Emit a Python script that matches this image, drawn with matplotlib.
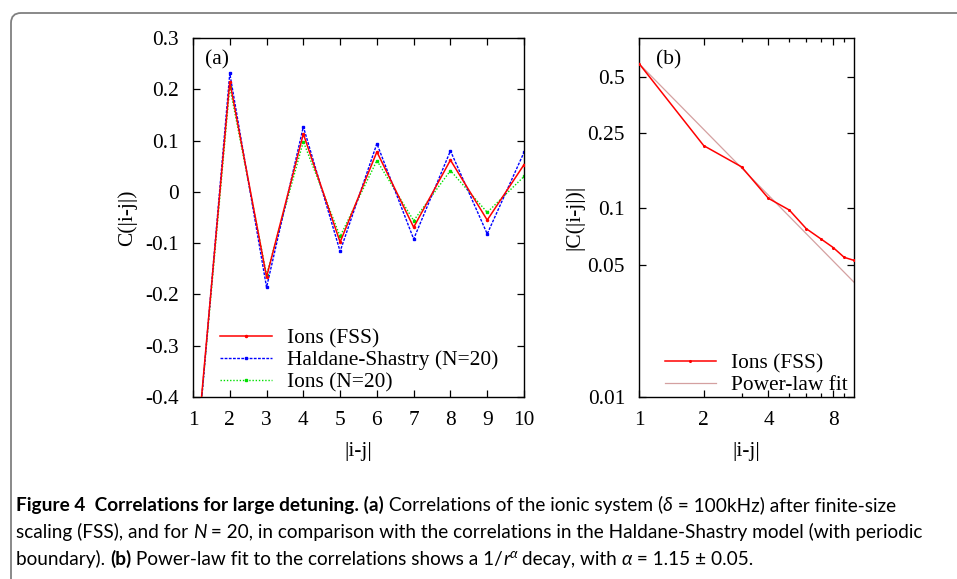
import numpy as np
import matplotlib
matplotlib.use("Agg")
import matplotlib.pyplot as plt
import matplotlib.patches as patches
from matplotlib.ticker import FixedLocator, NullFormatter, NullLocator

# data
r = [1, 2, 3, 4, 5, 6, 7, 8, 9, 10]
ions_fss = [-0.586, 0.215, -0.166, 0.113, -0.098, 0.078, -0.069, 0.062, -0.055, 0.053]
haldane = [-0.599, 0.231, -0.186, 0.127, -0.116, 0.094, -0.092, 0.080, -0.082, 0.077]
ions_n20 = [-0.591, 0.205, -0.162, 0.098, -0.087, 0.061, -0.056, 0.0415, -0.040, 0.030]

fit_r = [1, 10]
fit_c = [0.585, 0.0406]

a_yticks = [0.3, 0.2, 0.1, 0, -0.1, -0.2, -0.3, -0.4]
b_yticks = [0.5, 0.25, 0.1, 0.05, 0.01]
b_ylabels = ["0.5", "0.25", "0.1", "0.05", "0.01"]
b_xticks = [1, 2, 4, 8]

serif = ["Liberation Serif", "DejaVu Serif"]
fs = 15.4

fig = plt.figure(figsize=(9.57, 5.79), dpi=100)

# outer rounded frame
frame = patches.FancyBboxPatch((11, -60), 1000, 579 - 13 + 60,
                               boxstyle="round,pad=0,rounding_size=10",
                               transform=None, fill=False, ec="#808080", lw=1.3)
fig.add_artist(frame)


def style(ax):
  ax.tick_params(direction="in", which="both", top=True, right=True,
                 labelsize=fs)
  ax.tick_params(axis="y", pad=10)
  ax.tick_params(axis="x", pad=10)
  ax.tick_params(which="major", length=5, width=0.9)
  ax.tick_params(which="minor", length=3, width=0.9)
  for s in ax.spines.values():
    s.set_linewidth(1.0)
  for lab in ax.get_xticklabels() + ax.get_yticklabels():
    lab.set_family(serif)


# panel (a)
ax = fig.add_axes([193/957, 1-397/579, 331/957, 359/579])
ax.plot(r, ions_fss, "-", color="#ff0000", lw=1.1, marker="o", ms=1.5, label="Ions (FSS)", zorder=3)
ax.plot(r, haldane, color="#0000ff", lw=1.0, ls=(0, (2, 1)), marker="s", ms=1.5, label="Haldane-Shastry (N=20)", zorder=2)
ax.plot(r, ions_n20, color="#00e000", lw=1.0, ls=(0, (1, 1.3)), marker="s", ms=1.5, label="Ions (N=20)", zorder=1)
ax.set_xlim(1, 10)
ax.set_ylim(-0.4, 0.3)
ax.set_xticks(r)
ax.set_yticks(a_yticks)
ax.set_yticklabels(["0.3", "0.2", "0.1", "0", "-0.1", "-0.2", "-0.3", "-0.4"])
style(ax)
ax.set_xlabel("|i-j|", family=serif, fontsize=fs, labelpad=9)
ax.set_ylabel("C(|i-j|)", family=serif, fontsize=fs, labelpad=6)
ax.text(0.035, 0.94, "(a)", transform=ax.transAxes, family=serif, fontsize=fs, va="center")
leg = ax.legend(loc="lower left", bbox_to_anchor=(0.083, 0.013), frameon=False,
                prop={"family": serif, "size": fs}, handlelength=2.4, handletextpad=0.7,
                labelspacing=0.1, borderpad=0, borderaxespad=0)

# panel (b)
bx = fig.add_axes([639/957, 1-397/579, 215/957, 359/579])
bx.plot(r, np.abs(ions_fss), "-", color="#ff0000", lw=1.1, marker="o", ms=1.2, label="Ions (FSS)", zorder=3)
bx.plot(fit_r, fit_c, "-", color="#d4a0a0", lw=0.9, label="Power-law fit", zorder=2)
bx.set_xscale("log")
bx.set_yscale("log")
bx.set_xlim(1, 10)
bx.set_ylim(0.01, 0.8)
bx.xaxis.set_major_locator(FixedLocator(b_xticks))
bx.set_xticklabels([str(v) for v in b_xticks])
bx.xaxis.set_minor_locator(FixedLocator([3, 5, 6, 7, 9]))
bx.xaxis.set_minor_formatter(NullFormatter())
bx.yaxis.set_major_locator(FixedLocator(b_yticks))
bx.set_yticklabels(b_ylabels)
bx.yaxis.set_minor_locator(NullLocator())
style(bx)
bx.set_xlabel("|i-j|", family=serif, fontsize=fs, labelpad=9)
bx.set_ylabel("|C(|i-j|)|", family=serif, fontsize=fs, labelpad=2)
bx.text(0.08, 0.94, "(b)", transform=bx.transAxes, family=serif, fontsize=fs, va="center")
bx.legend(loc="lower left", bbox_to_anchor=(0.12, 0.005), frameon=False,
          prop={"family": serif, "size": fs}, handlelength=2.4, handletextpad=0.7,
          labelspacing=0.1, borderpad=0, borderaxespad=0)

# caption, built piece by piece
cap_font = ["Lato", "DejaVu Sans"]
cfs = 13.7
renderer = fig.canvas.get_renderer()


def line(y, parts, x0=16):
  x = x0
  for txt, kw in parts:
    opts = {"fontsize": cfs, "family": cap_font, "va": "baseline"}
    opts.update(kw)
    dy = opts.pop("dy", 0)
    t = fig.text(x/957, 1-(y-dy)/579, txt, **opts)
    bb = t.get_window_extent(renderer=renderer)
    x += bb.width


B = {"weight": "bold"}
R = {}
I = {"style": "italic"}
line(511, [("Figure 4  Correlations for large detuning. (a)", B),
           (" Correlations of the ionic system (", R), ("δ", I),
           (" = 100kHz) after finite-size", R)])
line(538, [("scaling (FSS), and for ", R), ("N", I),
           (" = 20, in comparison with the correlations in the Haldane-Shastry model (with periodic", R)])
line(565, [("boundary). ", R), ("(b)", B),
           (" Power-law fit to the correlations shows a 1/", R), ("r", I),
           ("α", {"style": "italic", "fontsize": 10, "dy": 7}),
           (" decay, with ", R), ("α", I), (" = 1.15 ± 0.05.", R)])

fig.savefig("out.png", dpi=100)
